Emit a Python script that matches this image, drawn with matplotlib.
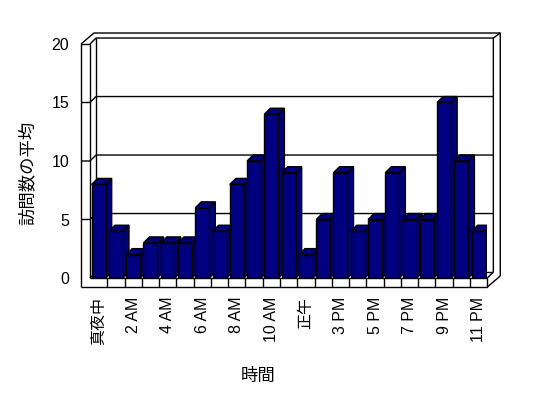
import matplotlib
matplotlib.use("Agg")
import matplotlib.pyplot as plt
from matplotlib.patches import Polygon

plt.rcParams['font.family'] = ['Liberation Sans', 'Noto Sans CJK JP', 'DejaVu Sans']

hours = ['真夜中', '1 AM', '2 AM', '3 AM', '4 AM', '5 AM', '6 AM', '7 AM',
         '8 AM', '9 AM', '10 AM', '11 AM', '正午', '2 PM', '3 PM', '4 PM',
         '5 PM', '6 PM', '7 PM', '8 PM', '9 PM', '10 PM', '11 PM']
visits = [8, 4, 2, 3, 3, 3, 6, 4, 8, 10, 14, 9, 2, 5, 9, 4, 5, 9, 5, 5, 15, 10, 4]
yticks = [0, 5, 10, 15, 20]

W, H = 548, 398
navy = '#000080'

fig = plt.figure(figsize=(W / 100, H / 100), dpi=100)
ax = fig.add_axes([90 / W, 120 / H, 397.3 / W, 234 / H])
ax.set_xlim(-0.5, len(hours) - 0.5)
ax.set_ylim(0, 20)
for s in ax.spines.values():
    s.set_visible(False)
ax.patch.set_visible(False)

# depth of the 3d look, in data units
ddx, ddy = 0.35, 0.51      # inner depth (where bars stand)
odx, ody = 0.75, 0.94      # outer depth incl. wall thickness
wl = 0.52                  # left wall thickness
fl = 0.77                  # floor thickness
x0, x1, top = -0.5, len(hours) - 0.5, 20


def line(pts, z=1):
    xs = [p[0] for p in pts]
    ys = [p[1] for p in pts]
    ax.plot(xs, ys, color='black', lw=1.0, clip_on=False, zorder=z,
            solid_capstyle='butt')


# walls
line([(x0 - wl, -fl), (x0 - wl, top), (x0, top), (x0, 0)])
line([(x0 - wl, top), (x0 - wl + odx, top + ody), (x1 + odx, top + ody),
      (x1 + odx, -fl + ody)])
line([(x0, top), (x0 + ddx, top + ddy), (x1 + ddx, top + ddy),
      (x1 + ddx, ddy)])
line([(x1 + ddx, top + ddy), (x1 + odx, top + ody)])
line([(x0 + ddx, top + ddy), (x0 + ddx, ddy), (x1 + ddx, ddy)])
line([(x0, 0), (x0 + ddx, ddy)])

# gridlines on back wall
for v in yticks[1:-1]:
    line([(x0 - wl, v), (x0, v), (x0 + ddx, v + ddy), (x1 + ddx, v + ddy)])

# floor
line([(x0 - wl, -fl), (x1, -fl), (x1, 0), (x0, 0)], z=4)
line([(x1, -fl), (x1 + odx, -fl + ody)], z=4)
line([(x1, 0), (x1 + ddx, ddy)], z=4)
for k in range(1, len(hours)):
    line([(x0 + k, 0), (x0 + k, -fl)], z=4)

# bars
xs = list(range(len(hours)))
bw = 0.81
ax.bar(xs, visits, width=bw, color=navy, edgecolor='black', lw=1.0, zorder=3)
for x, v in zip(xs, visits):
    xl, xr = x - bw / 2, x + bw / 2
    side = [(xr, 0), (xr + ddx, ddy), (xr + ddx, v + ddy), (xr, v)]
    cap = [(xl, v), (xr, v), (xr + ddx, v + ddy), (xl + ddx, v + ddy)]
    for pts in (side, cap):
        ax.add_patch(Polygon(pts, closed=True, facecolor=navy,
                             edgecolor='black', lw=1.0, zorder=2))

ax.set_yticks(yticks)
ax.set_yticklabels([str(t) for t in yticks], fontsize=11.5)
ax.set_xticks(xs[::2])
ax.set_xticklabels(hours[::2], rotation=90, fontsize=11.5)
ax.tick_params(axis='y', length=0, pad=15)
ax.tick_params(axis='x', length=0, pad=13.5)

fig.text(27 / W, 1 - 173 / H, '訪問数の平均', rotation=90, fontsize=12.5,
         ha='center', va='center')
fig.text(258 / W, 1 - 376 / H, '時間', fontsize=12.5, ha='center', va='center')

fig.savefig('out.png', dpi=100, facecolor='white')
